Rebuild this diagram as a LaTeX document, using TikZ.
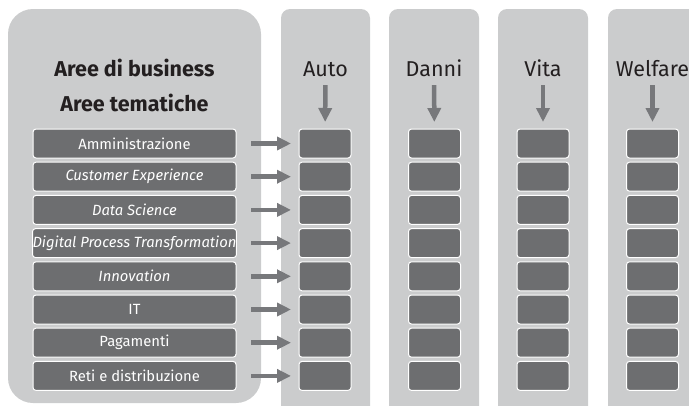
\documentclass[tikz,border=0pt]{standalone}
\usepackage{fontspec}
\setmainfont{Fira Sans}
\usetikzlibrary{positioning, arrows.meta}
\usepackage{xcolor}
\definecolor{panelgray}{HTML}{CBCCCD}
\definecolor{boxgray}{HTML}{6D6E70}
\definecolor{arrowgray}{HTML}{77787B}
\definecolor{inkblack}{HTML}{231F20}

\tikzset{
  area/.style={draw=white, line width=1pt, fill=boxgray, rounded corners=3pt,
    minimum width=203pt, minimum height=29pt, inner sep=0pt, outer sep=0pt,
    text=white, font=\fontsize{14.8}{17}\selectfont},
  cell/.style={area, minimum width=52pt},
  head/.style={inner sep=0pt, text height=14pt, text depth=0pt, text=inkblack,
    font=\fontsize{21.5}{25}\selectfont},
  title/.style={head, font=\fontsize{21.5}{25}\selectfont\bfseries},
  feed/.style={draw=arrowgray, line width=4.5pt, -{Triangle[length=14pt,width=13pt]}}
}

\begin{document}
\begin{tikzpicture}[x=1pt, y=-1pt, node distance=4.2pt]
    \useasboundingbox (0,0) rectangle (689,405);
    \begin{scope}
        \clip (0,0) rectangle (689,405);
        \fill[panelgray, rounded corners=25pt] (8,9) rectangle (261,403);
        \fill[panelgray, rounded corners=9pt] (281,9) rectangle (370,430);
        \fill[panelgray, rounded corners=9pt] (389,9) rectangle (479,430);
        \fill[panelgray, rounded corners=9pt] (498,9) rectangle (588,430);
        \fill[panelgray, rounded corners=9pt] (608,9) rectangle (697,430);
    \end{scope}

    % titles and column heads
    \node[title] (biz) at (134.5,69) {Aree di business};
    \node[title] (tem) at (134.5,104) {Aree tematiche};
    \node[head] (auto) at (325.5,69) {Auto};
    \node[head] (danni) at (434,69) {Danni};
    \node[head] (vita) at (543,69) {Vita};
    \node[head] (welf) at (652.5,69) {Welfare};

    % thematic areas
    \node[area] (amm) at (134.5,143.5) {Amministrazione};
    \node[area] (cx) [below=of amm] {\itshape Customer Experience};
    \node[area] (ds) [below=of cx] {\itshape Data Science};
    \node[area] (dpt) [below=of ds] {\itshape Digital Process Transformation};
    \node[area] (inn) [below=of dpt] {\itshape Innovation};
    \node[area] (it) [below=of inn] {IT};
    \node[area] (pag) [below=of it] {Pagamenti};
    \node[area] (reti) [below=of pag] {Reti e distribuzione};

    % Auto
    \node[cell] (a1) at (325,143.5) {};
    \node[cell] (a2) [below=of a1] {};
    \node[cell] (a3) [below=of a2] {};
    \node[cell] (a4) [below=of a3] {};
    \node[cell] (a5) [below=of a4] {};
    \node[cell] (a6) [below=of a5] {};
    \node[cell] (a7) [below=of a6] {};
    \node[cell] (a8) [below=of a7] {};

    % Danni
    \node[cell] (d1) at (434.5,143.5) {};
    \node[cell] (d2) [below=of d1] {};
    \node[cell] (d3) [below=of d2] {};
    \node[cell] (d4) [below=of d3] {};
    \node[cell] (d5) [below=of d4] {};
    \node[cell] (d6) [below=of d5] {};
    \node[cell] (d7) [below=of d6] {};
    \node[cell] (d8) [below=of d7] {};

    % Vita
    \node[cell] (v1) at (543,143.5) {};
    \node[cell] (v2) [below=of v1] {};
    \node[cell] (v3) [below=of v2] {};
    \node[cell] (v4) [below=of v3] {};
    \node[cell] (v5) [below=of v4] {};
    \node[cell] (v6) [below=of v5] {};
    \node[cell] (v7) [below=of v6] {};
    \node[cell] (v8) [below=of v7] {};

    % Welfare
    \node[cell] (w1) at (652.5,143.5) {};
    \node[cell] (w2) [below=of w1] {};
    \node[cell] (w3) [below=of w2] {};
    \node[cell] (w4) [below=of w3] {};
    \node[cell] (w5) [below=of w4] {};
    \node[cell] (w6) [below=of w5] {};
    \node[cell] (w7) [below=of w6] {};
    \node[cell] (w8) [below=of w7] {};

    % areas into Auto
    \draw[feed, shorten <=15pt, shorten >=8pt] (amm) -- (a1);
    \draw[feed, shorten <=15pt, shorten >=8pt] (cx) -- (a2);
    \draw[feed, shorten <=15pt, shorten >=8pt] (ds) -- (a3);
    \draw[feed, shorten <=15pt, shorten >=8pt] (dpt) -- (a4);
    \draw[feed, shorten <=15pt, shorten >=8pt] (inn) -- (a5);
    \draw[feed, shorten <=15pt, shorten >=8pt] (it) -- (a6);
    \draw[feed, shorten <=15pt, shorten >=8pt] (pag) -- (a7);
    \draw[feed, shorten <=15pt, shorten >=8pt] (reti) -- (a8);

    % heads into columns
    \draw[feed, shorten <=9pt, shorten >=7pt] (auto) -- (a1);
    \draw[feed, shorten <=9pt, shorten >=7pt] (danni) -- (d1);
    \draw[feed, shorten <=9pt, shorten >=7pt] (vita) -- (v1);
    \draw[feed, shorten <=9pt, shorten >=7pt] (welf) -- (w1);
\end{tikzpicture}
\end{document}
